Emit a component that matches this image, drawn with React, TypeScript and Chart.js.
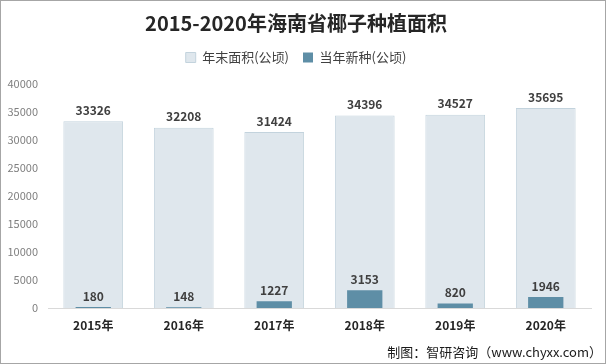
import React, { useEffect, useRef } from "react";
import { Chart, registerables } from "chart.js";

Chart.register(...registerables);

const categories = ["2015年", "2016年", "2017年", "2018年", "2019年", "2020年"];
const totalArea = [33326, 32208, 31424, 34396, 34527, 35695];
const newArea = [180, 148, 1227, 3153, 820, 1946];
const yTicks = [0, 5000, 10000, 15000, 20000, 25000, 30000, 35000, 40000];

const TITLE = "2015-2020年海南省椰子种植面积";
const SERIES_TOTAL = "年末面积(公顷)";
const SERIES_NEW = "当年新种(公顷)";
const FOOTER = "制图：智研咨询（www.chyxx.com）";

const FONT = "'Noto Sans CJK SC', 'Noto Sans', sans-serif";

const labelPlugin = {
  id: "valueLabels",
  afterDatasetsDraw(chart: any) {
    const ctx = chart.ctx;
    ctx.save();
    ctx.font = `bold 12px ${FONT}`;
    ctx.fillStyle = "#404040";
    ctx.textAlign = "center";
    ctx.textBaseline = "bottom";
    chart.data.datasets.forEach((ds: any, i: number) => {
      const meta = chart.getDatasetMeta(i);
      meta.data.forEach((bar: any, j: number) => {
        ctx.fillText(String(ds.data[j]), bar.x, bar.y - 5);
      });
    });
    ctx.restore();
  },
};

const footerPlugin = {
  id: "footer",
  afterDraw(chart: any) {
    const ctx = chart.ctx;
    ctx.save();
    ctx.font = `13px ${FONT}`;
    ctx.fillStyle = "#1a1a1a";
    ctx.textAlign = "right";
    ctx.textBaseline = "middle";
    ctx.fillText(FOOTER, chart.width - 3, 351);
    ctx.restore();
  },
};

const legendSpacePlugin = {
  id: "legendSpace",
  beforeInit(chart: any) {
    const legend = chart.legend;
    if (!legend) return;
    const orig = legend.fit;
    legend.fit = function () {
      orig.call(this);
      this.height += 10;
    };
  },
};

export default function App() {
  const ref = useRef<HTMLCanvasElement>(null);
  useEffect(() => {
    document.body.style.margin = "0";
    const chart = new Chart(ref.current as HTMLCanvasElement, {
      type: "bar",
      data: {
        labels: categories,
        datasets: [
          {
            label: SERIES_TOTAL,
            data: totalArea,
            backgroundColor: "#dfe7ed",
            borderColor: "#c3d3dd",
            borderWidth: 1,
            grouped: false,
            categoryPercentage: 1,
            barPercentage: 0.66,
            order: 1,
          } as any,
          {
            label: SERIES_NEW,
            data: newArea,
            backgroundColor: "#5e8ea6",
            borderWidth: 0,
            grouped: false,
            categoryPercentage: 1,
            barPercentage: 0.39,
            order: 0,
          } as any,
        ],
      },
      options: {
        animation: false,
        responsive: false,
        maintainAspectRatio: false,
        layout: { padding: { left: 0, right: 14, top: 0, bottom: 0 } },
        plugins: {
          title: {
            display: true,
            text: TITLE,
            color: "#262626",
            font: { family: FONT, size: 20, weight: "bold" },
            padding: { top: 10, bottom: 2 },
          },
          legend: {
            display: true,
            labels: {
              sort: (a: any, b: any) => a.datasetIndex - b.datasetIndex,
              boxWidth: 10,
              boxHeight: 10,
              color: "#404040",
              font: { family: FONT, size: 13 },
              padding: 14,
            },
          },
          tooltip: { enabled: false },
        },
        scales: {
          x: {
            grid: { display: false, drawTicks: false },
            border: { display: true, color: "#d9d9d9", width: 1 },
            ticks: {
              color: "#262626",
              font: { family: FONT, size: 12, weight: "bold" },
              padding: 10,
            },
            afterFit: (s: any) => {
              s.height = 55;
            },
          },
          y: {
            min: 0,
            max: 40000,
            afterBuildTicks: (s: any) => {
              s.ticks = yTicks.map((v) => ({ value: v }));
            },
            grid: { display: false, drawTicks: false },
            border: { display: false },
            ticks: {
              color: "#7f7f7f",
              font: { family: FONT, size: 11 },
              padding: 10,
              callback: (v: any) => String(v),
            },
            afterFit: (s: any) => {
              s.width = 47;
            },
          },
        },
      },
      plugins: [legendSpacePlugin, labelPlugin, footerPlugin],
    });
    return () => chart.destroy();
  }, []);
  return (
    <div
      style={{
        position: "absolute",
        left: 0,
        top: 0,
        width: 606,
        height: 364,
        boxSizing: "border-box",
        border: "1px solid #a6a6a6",
        background: "#fff",
      }}
    >
      <canvas ref={ref} width={604} height={362} style={{ display: "block" }} />
    </div>
  );
}
